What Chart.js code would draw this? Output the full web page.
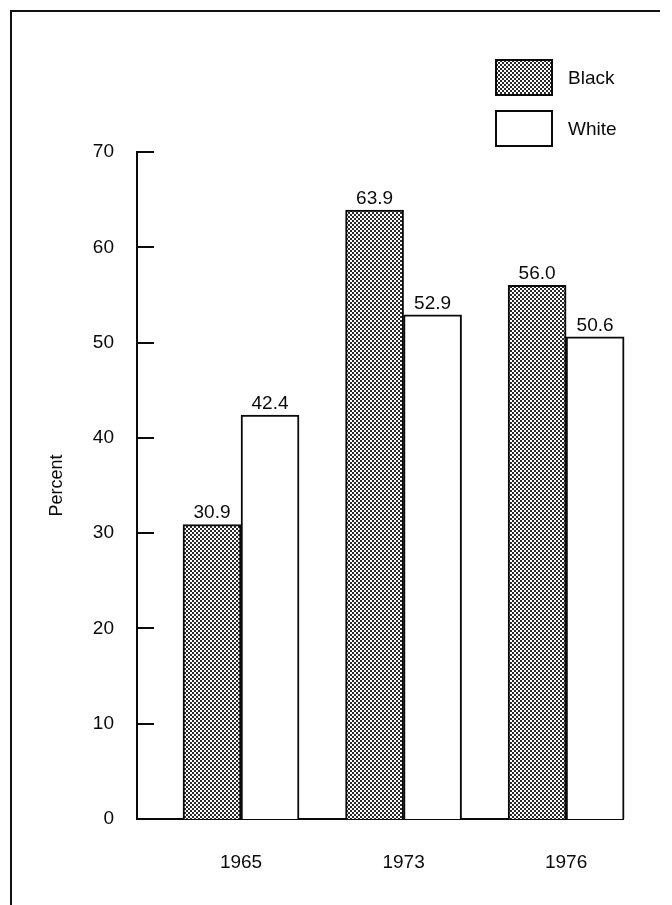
<!DOCTYPE html>
<html><head><meta charset="utf-8">
<script src="https://cdn.jsdelivr.net/npm/chart.js@4/dist/chart.umd.min.js"></script>
<style>
html,body{margin:0;padding:0;background:#fff;}
#wrap{position:relative;width:672px;height:905px;overflow:hidden;}
#frame{position:absolute;left:10px;top:10px;width:650px;height:895px;border-top:2px solid #111;border-left:2px solid #111;box-sizing:border-box;pointer-events:none;}
canvas{position:absolute;left:0;top:0;}
</style></head><body>
<div id="wrap"><canvas id="c" width="672" height="905"></canvas><div id="frame"></div></div>
<script>
// ---- data ----
const years = ['1965', '1973', '1976'];
const seriesNames = ['Black', 'White'];
const blackValues = [30.9, 63.9, 56.0];
const whiteValues = [42.4, 52.9, 50.6];
const yTickValues = [0, 10, 20, 30, 40, 50, 60, 70];

const FONT = 'Liberation Sans, Arial, Helvetica, sans-serif';
const INK = '#0a0a0a';

function makeDotPattern() {
  const c = document.createElement('canvas');
  c.width = 4; c.height = 4;
  const g = c.getContext('2d');
  g.fillStyle = '#fff'; g.fillRect(0, 0, 4, 4);
  g.fillStyle = '#2a2a2a';
  g.fillRect(0, 0, 2, 2);
  g.fillRect(2, 2, 2, 2);
  return g.createPattern(c, 'repeat');
}
const dotPattern = makeDotPattern();

const toPoints = vals => vals.map((v, i) => ({ x: i, y: v }));

const inwardTicks = {
  id: 'inwardTicks',
  afterDatasetsDraw(chart) {
    const y = chart.scales.y, ctx = chart.ctx, left = chart.chartArea.left;
    ctx.save();
    ctx.strokeStyle = INK; ctx.lineWidth = 2;
    y.ticks.forEach(t => {
      if (t.value === 0) return;
      const py = Math.round(y.getPixelForValue(t.value));
      ctx.beginPath(); ctx.moveTo(left, py); ctx.lineTo(left + 17, py); ctx.stroke();
    });
    ctx.restore();
  }
};

const valueLabels = {
  id: 'valueLabels',
  afterDatasetsDraw(chart) {
    const ctx = chart.ctx;
    ctx.save();
    ctx.fillStyle = INK;
    ctx.font = '19px ' + FONT;
    ctx.textAlign = 'center';
    ctx.textBaseline = 'bottom';
    chart.data.datasets.forEach((ds, di) => {
      const meta = chart.getDatasetMeta(di);
      meta.data.forEach((bar, i) => {
        ctx.fillText(ds.data[i].y.toFixed(1), bar.x, bar.y - 2);
      });
    });
    ctx.restore();
  }
};

const boxLegend = {
  id: 'boxLegend',
  afterDraw(chart) {
    const ctx = chart.ctx, ca = chart.chartArea;
    const bx = ca.right - 128, by0 = ca.top - 93, bw = 58, bh = 37, step = 51;
    ctx.save();
    chart.data.datasets.forEach((ds, i) => {
      const by = by0 + i * step;
      ctx.fillStyle = ds.backgroundColor;
      ctx.fillRect(bx, by, bw, bh);
      ctx.strokeStyle = INK; ctx.lineWidth = 2;
      ctx.strokeRect(bx + 1, by + 1, bw - 2, bh - 2);
      ctx.fillStyle = INK;
      ctx.font = '19px ' + FONT;
      ctx.textAlign = 'left';
      ctx.textBaseline = 'middle';
      ctx.fillText(ds.label, bx + bw + 15, by + bh / 2 + 1);
    });
    ctx.restore();
  }
};

new Chart(document.getElementById('c'), {
  type: 'bar',
  data: {
    datasets: [
      { label: seriesNames[0], data: toPoints(blackValues), backgroundColor: dotPattern,
        borderColor: INK, borderWidth: 2, clip: false },
      { label: seriesNames[1], data: toPoints(whiteValues), backgroundColor: '#fff',
        borderColor: INK, borderWidth: 2, clip: false }
    ]
  },
  options: {
    responsive: false,
    animation: false,
    barThickness: 58,
    layout: { padding: { left: 0, top: 152, right: 49, bottom: 36 } },
    plugins: { legend: { display: false }, tooltip: { enabled: false } },
    scales: {
      x: {
        type: 'linear',
        offset: false,
        min: -0.64, max: 2.35,
        grid: { display: false, offset: false },
        border: { display: true, color: INK, width: 2 },
        ticks: {
          stepSize: 1, includeBounds: false, padding: 24,
          color: INK, font: { family: FONT, size: 19 },
          callback: v => years[v] !== undefined ? years[v] : ''
        },
        afterFit: s => { s.height = 50; }
      },
      y: {
        min: 0, max: 70,
        grid: { display: false },
        border: { display: true, color: INK, width: 2 },
        ticks: {
          stepSize: 10, padding: 15, color: INK, font: { family: FONT, size: 19 },
          callback: v => yTickValues.includes(v) ? String(v) : ''
        },
        title: { display: true, text: 'Percent', color: INK,
          font: { family: FONT, size: 18 }, padding: { top: 46, bottom: 0 } },
        afterFit: s => { s.width = 137; }
      }
    }
  },
  plugins: [inwardTicks, valueLabels, boxLegend]
});
</script>
</body></html>
